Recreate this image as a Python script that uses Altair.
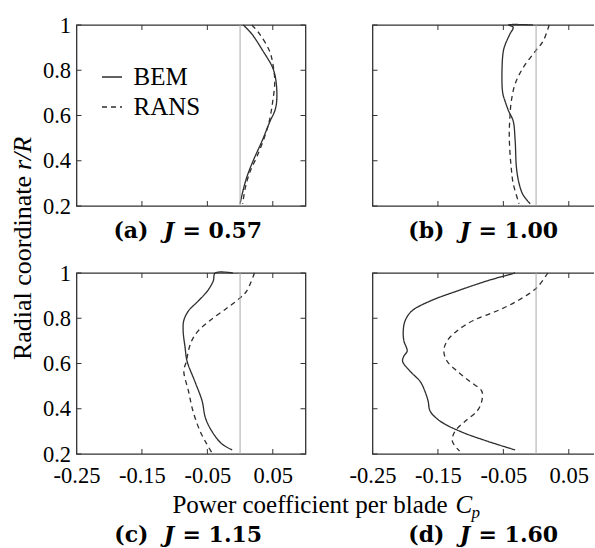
import altair as alt
import pandas as pd

# ---------------- data ----------------
panel_letters = ["(a)", "(b)", "(c)", "(d)"]
panel_J = ["= 0.57", "= 1.00", "= 1.15", "= 1.60"]

x_ticks = [-0.25, -0.15, -0.05, 0.05]
y_ticks = [0.2, 0.4, 0.6, 0.8, 1.0]

# (a) J = 0.57
a_bem_r = [1.0, 0.96, 0.885, 0.81, 0.75, 0.664, 0.62, 0.576, 0.49, 0.40, 0.325, 0.25, 0.21]
a_bem_cp = [0.005, 0.018, 0.035, 0.05, 0.055, 0.056, 0.053, 0.046, 0.034, 0.02, 0.01, 0.003, 0.0]
a_rans_r = [1.0, 0.96, 0.885, 0.83, 0.75, 0.664, 0.58, 0.51, 0.42, 0.35, 0.28, 0.21]
a_rans_cp = [0.018, 0.03, 0.045, 0.05, 0.053, 0.05, 0.045, 0.038, 0.026, 0.015, 0.008, 0.004]

# (b) J = 1.00
b_bem_r = [1.0, 1.0, 0.99, 0.96, 0.915, 0.885, 0.81, 0.70, 0.66, 0.62, 0.576, 0.49, 0.37, 0.30, 0.25, 0.21]
b_bem_cp = [-0.005, -0.042, -0.035, -0.040, -0.047, -0.050, -0.052, -0.051, -0.047, -0.042, -0.035,
            -0.032, -0.030, -0.026, -0.020, -0.009]
b_rans_r = [1.0, 0.93, 0.885, 0.81, 0.74, 0.66, 0.59, 0.52, 0.44, 0.37, 0.30, 0.21]
b_rans_cp = [0.02, 0.011, -0.001, -0.02, -0.032, -0.038, -0.04, -0.041, -0.04, -0.038, -0.035, -0.026]

# (c) J = 1.15
c_bem_r = [1.0, 1.0, 0.965, 0.92, 0.876, 0.832, 0.79, 0.744, 0.67, 0.61, 0.52, 0.434, 0.36, 0.30, 0.245, 0.218]
c_bem_cp = [-0.011, -0.038, -0.041, -0.05, -0.064, -0.079, -0.086, -0.087, -0.084, -0.081, -0.069,
            -0.058, -0.053, -0.043, -0.028, -0.012]
c_rans_r = [1.0, 0.92, 0.89, 0.845, 0.79, 0.744, 0.70, 0.655, 0.61, 0.567, 0.48, 0.39, 0.30, 0.245, 0.205]
c_rans_cp = [0.022, 0.01, 0.0, -0.02, -0.046, -0.064, -0.074, -0.079, -0.082, -0.086, -0.079, -0.072,
             -0.061, -0.051, -0.043]

# (d) J = 1.60
d_bem_r = [1.0, 0.99, 0.965, 0.92, 0.876, 0.832, 0.79, 0.744, 0.70, 0.655, 0.633, 0.61, 0.567, 0.52,
           0.478, 0.434, 0.39, 0.346, 0.30, 0.257, 0.218]
d_bem_cp = [-0.032, -0.045, -0.075, -0.121, -0.162, -0.19, -0.2, -0.203, -0.202, -0.197, -0.202, -0.204,
            -0.193, -0.177, -0.17, -0.165, -0.162, -0.147, -0.116, -0.075, -0.032]
d_rans_r = [1.0, 0.935, 0.876, 0.832, 0.79, 0.744, 0.70, 0.655, 0.61, 0.567, 0.52, 0.478, 0.434, 0.39,
            0.346, 0.30, 0.257, 0.213]
d_rans_cp = [0.018, 0.001, -0.029, -0.06, -0.096, -0.121, -0.136, -0.141, -0.136, -0.121, -0.101, -0.083,
             -0.083, -0.09, -0.108, -0.124, -0.128, -0.117]

panels_data = [
    (a_bem_r, a_bem_cp, a_rans_r, a_rans_cp),
    (b_bem_r, b_bem_cp, b_rans_r, b_rans_cp),
    (c_bem_r, c_bem_cp, c_rans_r, c_rans_cp),
    (d_bem_r, d_bem_cp, d_rans_r, d_rans_cp),
]

# ---------------- style ----------------
W, H = 229, 181
GAP = 67
FRAME = "#333333"
LINE = "#2e2e2e"
ZERO = "#a8a8a8"
SERIF = "Liberation Serif"
TFONT = "DejaVu Serif"

xs = alt.Scale(domain=[-0.25, 0.1], nice=False, zero=False)
ys = alt.Scale(domain=[0.2, 1.0], nice=False, zero=False)
dash_scale = alt.Scale(domain=["BEM", "RANS"], range=[[1, 0], [5, 4]])

x_label_expr = "datum.value < 0 ? '-' + format(-datum.value, '.2f') : format(datum.value, '.2f')"


def txt(s, x, y, size, font=SERIF, weight="normal", style="normal", align="left", angle=0,
        baseline="alphabetic"):
    return alt.Chart(pd.DataFrame({"t": [s]})).mark_text(
        font=font, fontSize=size, fontWeight=weight, fontStyle=style, align=align,
        baseline=baseline, angle=angle, color="black"
    ).encode(text="t:N", x=alt.value(x), y=alt.value(y))


def panel(i):
    br, bc, rr, rc = panels_data[i]
    rows = []
    for k, (r, c) in enumerate(zip(br, bc)):
        rows.append({"r": r, "cp": c, "method": "BEM", "idx": k})
    for k, (r, c) in enumerate(zip(rr, rc)):
        rows.append({"r": r, "cp": c, "method": "RANS", "idx": k})
    df = pd.DataFrame(rows)

    bottom = i >= 2
    left = i % 2 == 0

    if bottom:
        xaxis = alt.Axis(values=x_ticks, labelExpr=x_label_expr, ticks=False, domain=False, grid=False,
                         title=None, labelFont=SERIF, labelFontSize=22.5, labelColor="black",
                         labelPadding=10, labelFlush=False, labelOverlap=False)
    else:
        xaxis = None
    if left:
        yaxis = alt.Axis(values=y_ticks, format="~g", ticks=False, domain=False, grid=False,
                         title=None, labelFont=SERIF, labelFontSize=22.5, labelColor="black",
                         labelPadding=6, labelFlush=False, labelOverlap=False)
    else:
        yaxis = None

    if i == 0:
        legend = alt.Legend(orient="none", legendX=23, legendY=39.5, title=None, symbolType="stroke",
                            symbolSize=400, symbolStrokeWidth=1.3, symbolStrokeColor=LINE,
                            labelFont=SERIF, labelFontSize=25, labelOffset=9, rowPadding=4,
                            padding=0, labelColor="black")
    else:
        legend = None

    zero = alt.Chart(pd.DataFrame({"z": [0.0]})).mark_rule(color=ZERO, strokeWidth=1).encode(
        x=alt.X("z:Q", scale=xs, axis=xaxis)
    )

    lines = alt.Chart(df).mark_line(color=LINE, strokeWidth=1.3, interpolate="catmull-rom").encode(
        x=alt.X("cp:Q", scale=xs, axis=xaxis),
        y=alt.Y("r:Q", scale=ys, axis=yaxis),
        strokeDash=alt.StrokeDash("method:N", scale=dash_scale, legend=legend),
        order="idx:Q",
    )

    xt = pd.DataFrame({"v": x_ticks})
    yt = pd.DataFrame({"v": y_ticks})
    tb = alt.Chart(xt).mark_rule(color=FRAME, strokeWidth=1).encode(
        x=alt.X("v:Q", scale=xs, axis=xaxis), y=alt.value(H), y2=alt.value(H - 5))
    tt = alt.Chart(xt).mark_rule(color=FRAME, strokeWidth=1).encode(
        x=alt.X("v:Q", scale=xs, axis=xaxis), y=alt.value(0), y2=alt.value(5))
    tl = alt.Chart(yt).mark_rule(color=FRAME, strokeWidth=1).encode(
        y=alt.Y("v:Q", scale=ys, axis=yaxis), x=alt.value(0), x2=alt.value(5))
    tr = alt.Chart(yt).mark_rule(color=FRAME, strokeWidth=1).encode(
        y=alt.Y("v:Q", scale=ys, axis=yaxis), x=alt.value(W), x2=alt.value(W - 5))

    ty = H + (88 if bottom else 32)
    cx = W / 2
    titles = [
        txt(panel_letters[i], cx - 42.5, ty, 22, font=TFONT, weight="bold", align="right"),
        txt("J", cx - 22, ty, 22, font=TFONT, weight="bold", style="italic", align="center"),
        txt(panel_J[i], cx - 8.5, ty, 22, font=TFONT, weight="bold", align="left"),
    ]

    layers = [lines, zero, tb, tt, tl, tr] + titles

    if i == 2:
        # shared axis titles, drawn once
        layers += [
            txt("Power coefficient per blade", 371, 240, 25, align="right"),
            txt("C", 379, 240, 25, style="italic", align="left"),
            txt("p", 395, 245, 17, style="italic", align="left"),
            txt("Radial coordinate", -46, -97, 26, align="right", angle=270),
            txt("r/R", -46, -103, 26, style="italic", align="left", angle=270),
        ]

    return alt.layer(*layers).properties(width=W, height=H)


chart = alt.concat(*[panel(i) for i in range(4)], columns=2, spacing=GAP, bounds="flush").configure_view(
    stroke=FRAME, strokeWidth=1.3
).properties(padding={"left": 8.5, "top": 13, "right": -10, "bottom": 0}, background="white")

chart.save("out.html", embed_options={"renderer": "svg", "actions": False})
